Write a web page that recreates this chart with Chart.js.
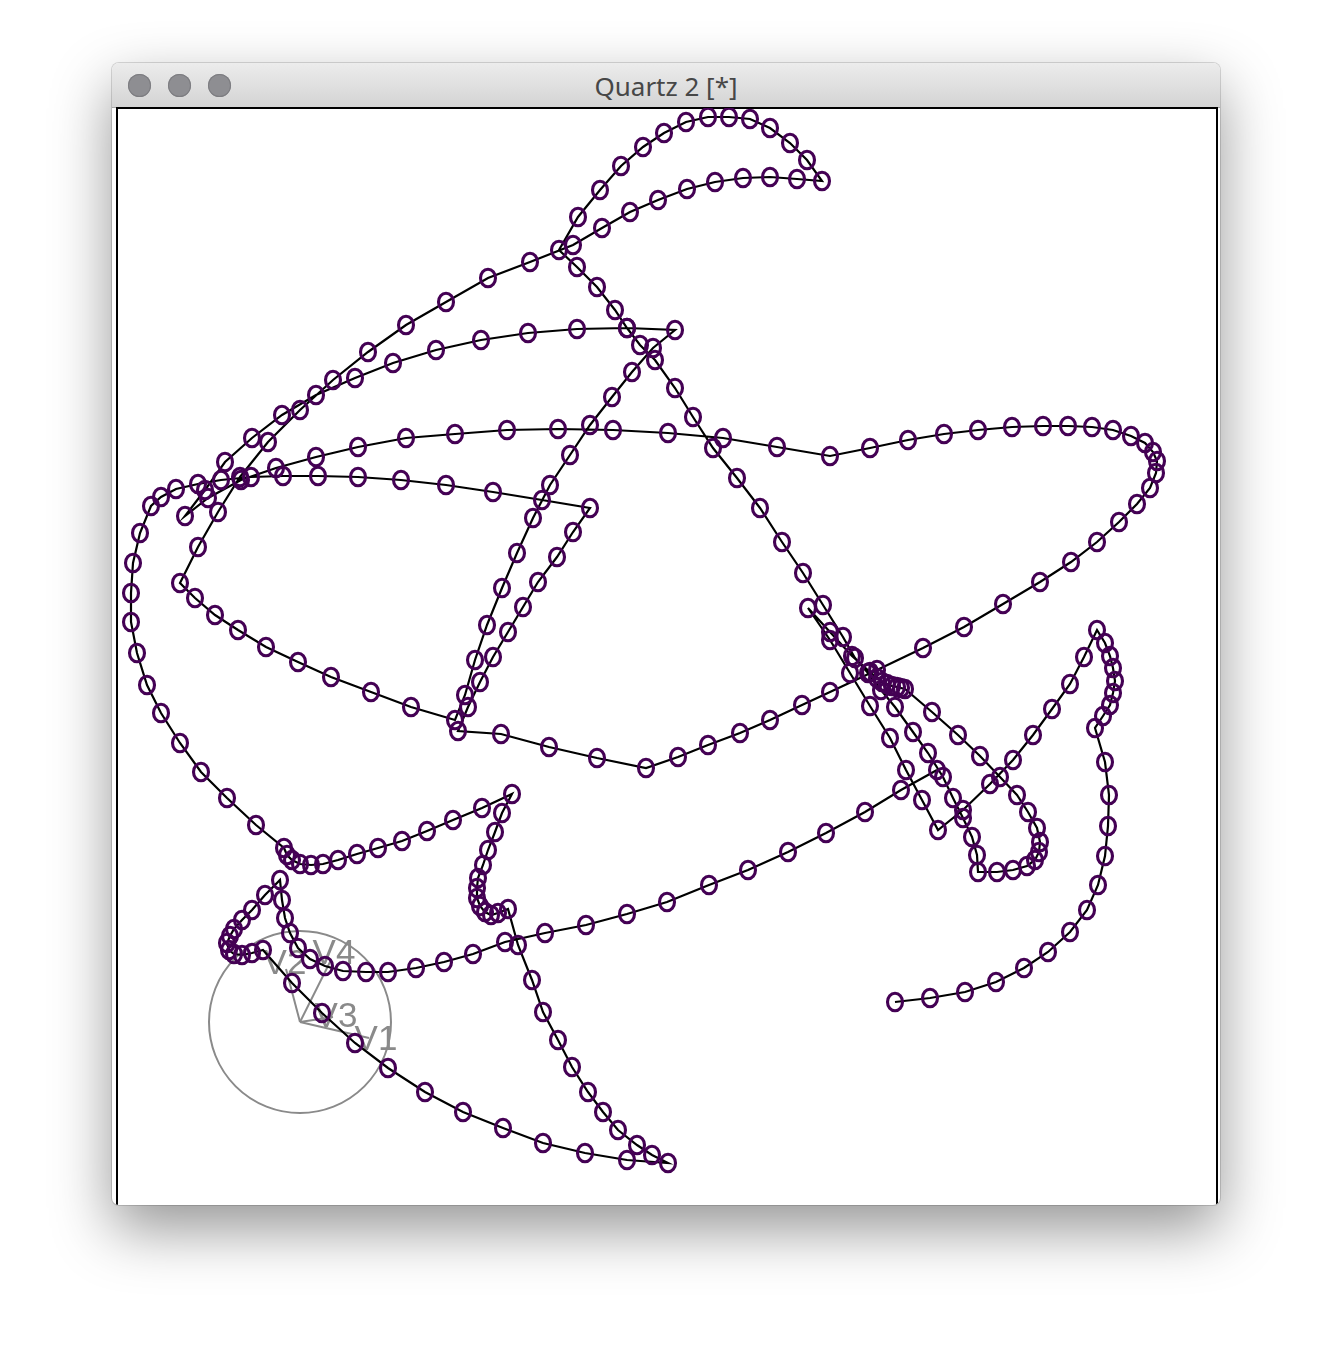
<!DOCTYPE html>
<html>
<head>
<meta charset="utf-8">
<script src="https://cdn.jsdelivr.net/npm/chart.js@4.4.1/dist/chart.umd.min.js"></script>
<style>
  html, body { margin: 0; padding: 0; background: #ffffff; }
  body { width: 1332px; height: 1366px; position: relative; overflow: hidden; }
  .win {
    position: absolute; left: 112px; top: 63px; width: 1108px; height: 1142px;
    border-radius: 7px; background: #ffffff; overflow: hidden;
    box-shadow: 0 24px 60px rgba(0,0,0,0.42), 0 0 0 1px rgba(0,0,0,0.14);
  }
  .titlebar {
    position: absolute; left: 0; top: 0; width: 1108px; height: 44px;
    background: linear-gradient(#ececec, #d4d4d4);
    border-bottom: 1px solid #a9a9a9;
    font-family: "Noto Sans", "Liberation Sans", sans-serif;
    font-size: 26px; color: #474747; text-align: center; line-height: 47px;
  }
  .btn {
    position: absolute; top: 11px; width: 23px; height: 23px; border-radius: 50%;
    background: #8e8e92; box-shadow: inset 0 0 0 1px #7d7d81;
  }
  .frame {
    position: absolute; left: 4px; top: 44px; width: 1098px; height: 1100px;
    border: 2px solid #000000; box-sizing: content-box;
  }
  .plot { position: absolute; left: 5px; top: 45px; width: 1098px; height: 1096px; }
</style>
</head>
<body>
<div class="win">
  <div class="titlebar" id="title"></div>
  <div class="btn" style="left:16px"></div>
  <div class="btn" style="left:56px"></div>
  <div class="btn" style="left:96px"></div>
  <div class="frame"></div>
  <div class="plot"><canvas id="c" width="1098" height="1096"></canvas></div>
</div>
<script>
// ---- data: projected positions (x to the right, y downward) ----
const windowTitle = "Quartz 2 [*]";

const leg01 = [[895,1002],[930,998],[965,992],[996,982],[1024,968],[1048,952],[1070,932],[1087,910],[1098,885],[1105,856],[1108,826],[1109,795],[1105,762],[1095,728]];
const leg02 = [[1103,716],[1110,705],[1113,693],[1115,681],[1113,668],[1110,656],[1105,643],[1097,630]];
const leg03 = [[1084,657],[1070,684],[1052,709],[1033,735],[1013,760],[990,784],[963,810],[938,830]];
const leg04 = [[922,800],[906,770],[890,738],[870,706],[850,673],[830,640],[808,608]];
const leg05 = [[830,632],[852,656],[870,672],[877,678],[882,682],[887,684],[892,686],[897,687],[901,688],[905,689],[932,712],[958,735],[980,756],[1000,777],[1017,795],[1028,812],[1037,828],[1040,842],[1039,852],[1035,860],[1027,866],[1013,870],[997,872],[978,872]];
const leg06 = [[977,855],[972,837],[963,818],[953,798],[943,777],[928,753],[913,732],[895,707],[881,690],[868,673],[855,658],[843,637],[823,605],[803,573],[782,542],[760,508],[737,478],[713,448],[693,417],[675,388],[655,360],[640,345],[627,328],[615,310],[597,287],[577,267],[559,250]];
const leg07 = [[578,217],[600,190],[621,166],[643,147],[664,133],[686,122],[708,117],[729,117],[750,119],[770,128],[790,143],[807,160],[822,181]];
const leg08 = [[797,179],[770,177],[743,178],[715,182],[687,189],[658,200],[630,212],[602,228],[573,245],[530,262],[488,278],[446,302],[406,325],[368,352],[333,380],[300,410],[268,442],[240,477],[218,512],[198,547],[180,583]];
const leg09 = [[195,598],[215,615],[238,630],[266,647],[298,662],[331,677],[371,692],[411,707],[455,720]];
const leg10 = [[465,695],[475,660],[487,625],[502,588],[517,553],[533,518],[550,485],[570,455],[590,425],[612,397],[632,372],[653,348],[675,330]];
const leg11 = [[627,328],[577,329],[528,333],[481,340],[436,350],[393,363],[355,378],[316,395],[282,415],[252,438],[225,462],[205,490],[185,516]];
const leg12 = [[208,498],[241,480],[276,468],[316,457],[358,447],[406,438],[455,434],[507,430],[558,429],[613,430],[668,433],[723,438],[777,447],[830,456],[870,448],[908,440],[944,434],[978,430],[1012,427],[1043,426],[1068,426],[1092,427],[1113,430],[1131,436],[1145,443],[1153,452],[1157,461],[1156,473],[1150,488],[1137,504],[1119,522],[1097,542],[1071,562],[1040,582],[1003,604],[964,627],[923,648],[877,670],[830,692],[802,705],[770,720],[740,733],[708,745],[678,757],[646,768]];
const leg13 = [[597,758],[549,747],[501,734],[458,731]];
const leg14 = [[468,707],[480,682],[493,657],[508,632],[523,607],[538,582],[557,557],[573,532],[590,508]];
const leg15 = [[542,500],[493,492],[446,485],[401,480],[358,477],[318,476],[283,476],[251,477],[221,480],[198,484],[176,489],[161,497],[151,506],[140,533],[133,563],[131,593],[131,622],[137,653],[147,685],[161,713],[180,743],[201,772],[227,798],[256,825],[284,848],[287,855],[292,860],[300,864],[311,865],[323,864],[338,860],[357,854],[378,848],[402,841],[427,831],[453,820],[482,808],[512,794]];
const leg16 = [[502,813],[495,832],[488,850],[483,865],[478,878],[477,888],[477,898],[480,906],[485,912],[491,915],[498,913],[508,909]];
const leg17 = [[518,945],[532,980],[543,1012],[558,1040],[572,1067],[588,1092],[603,1112],[618,1130],[637,1145],[652,1155],[668,1163]];
const leg18 = [[627,1160],[585,1153],[543,1143],[503,1128],[463,1112],[425,1092],[388,1068],[355,1043],[322,1013],[292,983],[263,950]];
const leg19 = [[252,953],[242,955],[234,954],[229,950],[227,943],[230,936],[234,929],[242,920],[252,910],[265,895],[280,880]];
const leg20 = [[282,900],[285,918],[290,933],[298,948],[310,959],[325,966],[343,971],[366,972],[388,972],[416,968],[444,962],[473,954],[505,942],[545,933],[586,925],[627,914],[667,902],[709,885],[748,870],[788,852],[826,833],[865,812],[901,790],[937,770]];

// tour axes (compass)
const axisLabels = ["V1", "V2", "V3", "V4"];
const axisEndX   = [369, 286, 333, 331];
const axisEndY   = [1038, 969, 1017, 960];
const axisLabelX = [376, 285, 336, 334];
const axisLabelY = [1040, 964, 1017, 954];
const compassCenter = [300, 1022];
const compassRadius = 91;

// frame of the plotting region (in the same units as the data)
const frameX = [117, 1215];
const frameY = [108, 1204];

// ---- build ----
document.getElementById('title').textContent = windowTitle;

const legs = [leg01,leg02,leg03,leg04,leg05,leg06,leg07,leg08,leg09,leg10,leg11,leg12,leg13,leg14,leg15,leg16,leg17,leg18,leg19,leg20];
const pathPoints = [];
legs.forEach(l => l.forEach(p => pathPoints.push({x: p[0], y: p[1]})));

function ellipseMarker() {
  const cv = document.createElement('canvas');
  cv.width = 24; cv.height = 26;
  const g = cv.getContext('2d');
  g.strokeStyle = '#440154';
  g.lineWidth = 3.1;
  g.beginPath();
  g.ellipse(12, 13, 7.5, 8.8, 0, 0, Math.PI * 2);
  g.stroke();
  return cv;
}
const marker = ellipseMarker();

const grey = '#8a8a8a';
const datasets = [{
  data: pathPoints,
  showLine: true,
  borderColor: '#000000',
  borderWidth: 2.2,
  pointStyle: marker,
  pointRadius: 8,
  pointHoverRadius: 8,
  tension: 0,
  clip: false,
  order: 0
}];
axisLabels.forEach((lab, i) => {
  datasets.push({
    data: [{x: compassCenter[0], y: compassCenter[1]}, {x: axisEndX[i], y: axisEndY[i]}],
    showLine: true, borderColor: grey, borderWidth: 2, pointRadius: 0, pointHoverRadius: 0,
    clip: false, order: 5
  });
});

const compassPlugin = {
  id: 'compass',
  beforeDatasetsDraw(chart) {
    const {ctx, scales} = chart;
    const cx = scales.x.getPixelForValue(compassCenter[0]);
    const cy = scales.y.getPixelForValue(compassCenter[1]);
    const r = scales.x.getPixelForValue(compassCenter[0] + compassRadius) - cx;
    ctx.save();
    ctx.strokeStyle = grey;
    ctx.lineWidth = 2;
    ctx.beginPath();
    ctx.arc(cx, cy, r, 0, Math.PI * 2);
    ctx.stroke();
    ctx.fillStyle = grey;
    ctx.font = '35px "Liberation Sans", Arial, sans-serif';
    ctx.textAlign = 'center';
    ctx.textBaseline = 'middle';
    axisLabels.forEach((lab, i) => {
      ctx.fillText(lab, scales.x.getPixelForValue(axisLabelX[i]), scales.y.getPixelForValue(axisLabelY[i]));
    });
    ctx.restore();
  }
};

new Chart(document.getElementById('c'), {
  type: 'scatter',
  data: { datasets },
  options: {
    responsive: false,
    animation: false,
    events: [],
    layout: { padding: 0, autoPadding: false },
    plugins: { legend: { display: false }, tooltip: { enabled: false } },
    scales: {
      x: { type: 'linear', min: frameX[0], max: frameX[1], display: false },
      y: { type: 'linear', min: frameY[0], max: frameY[1], reverse: true, display: false }
    }
  },
  plugins: [compassPlugin]
});
</script>
</body>
</html>
